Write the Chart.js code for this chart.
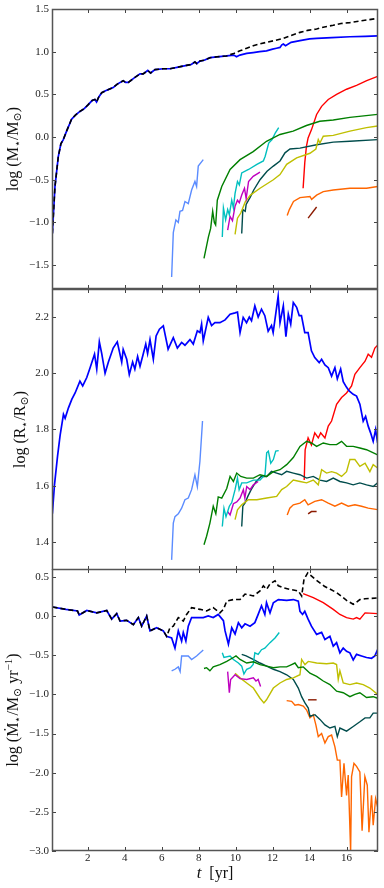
<!DOCTYPE html>
<html>
<head>
<meta charset="utf-8">
<script src="https://cdn.jsdelivr.net/npm/chart.js@4.4.0/dist/chart.umd.min.js"></script>
<style>
  body { margin: 0; background: #fff; }
  #wrap { position: relative; width: 384px; height: 888px; }
  canvas { position: absolute; left: 0; }
</style>
</head>
<body>
<div id="wrap">
  <canvas id="pMass" width="384" height="290" style="top:0px"></canvas>
  <canvas id="pRad" width="384" height="281" style="top:289px"></canvas>
  <canvas id="pRate" width="384" height="319" style="top:569px"></canvas>
</div>
<script>
// shared axis
const timeTicks = [2, 4, 6, 8, 10, 12, 14, 16];
const massTicks = [-1.5, -1.0, -0.5, 0.0, 0.5, 1.0, 1.5];
const radTicks = [1.4, 1.6, 1.8, 2.0, 2.2];
const rateTicks = [-3.0, -2.5, -2.0, -1.5, -1.0, -0.5, 0.0, 0.5];

// ---- log M* ----
const massBlue = [[0.09,-1.13],[0.23,-0.58],[0.41,-0.23],[0.55,-0.08],[0.68,-0.03],[0.86,0.07],[1.13,0.21],[1.35,0.26],[1.58,0.30],[1.8,0.33],[2.03,0.38],[2.25,0.43],[2.39,0.44],[2.48,0.41],[2.6,0.47],[2.76,0.52],[3.05,0.55],[3.38,0.58],[3.6,0.62],[3.92,0.66],[4.05,0.64],[4.2,0.64],[4.5,0.69],[4.83,0.74],[5.0,0.74],[5.25,0.78],[5.4,0.75],[5.64,0.79],[6.09,0.80],[6.45,0.80],[6.9,0.82],[7.35,0.84],[7.6,0.85],[7.8,0.88],[7.9,0.86],[8.07,0.89],[8.3,0.90],[8.62,0.93],[9.0,0.94],[9.51,0.95],[9.9,0.96],[10.05,0.94],[10.23,0.96],[10.6,0.98],[10.95,0.99],[11.3,1.0],[11.67,1.01],[12.0,1.03],[12.21,1.04],[12.4,1.05],[12.5,1.08],[12.58,1.09],[12.7,1.07],[13.0,1.11],[13.48,1.13],[14.0,1.15],[14.38,1.155],[15.2,1.165],[16.18,1.175],[17.0,1.18],[17.68,1.186]];
const massTotalLate = [[9.9,0.98],[10.23,1.01],[10.6,1.04],[10.95,1.07],[11.3,1.09],[11.67,1.11],[12.1,1.13],[12.58,1.155],[13.0,1.19],[13.48,1.226],[13.9,1.25],[14.38,1.265],[14.8,1.29],[15.28,1.31],[15.7,1.33],[16.18,1.34],[16.9,1.365],[17.68,1.39]];
const massLight = [[6.54,-1.64],[6.63,-1.12],[6.77,-0.97],[6.9,-1.0],[6.99,-0.87],[7.13,-0.86],[7.26,-0.755],[7.44,-0.78],[7.62,-0.62],[7.8,-0.52],[7.89,-0.58],[7.98,-0.34],[8.25,-0.265]];
const massGreen = [[8.29,-1.42],[8.53,-1.17],[8.65,-1.07],[8.76,-0.87],[8.85,-1.0],[8.92,-1.03],[9.01,-0.74],[9.25,-0.58],[9.7,-0.38],[10.24,-0.265],[10.95,-0.17],[11.67,-0.05],[12.4,0.03],[13.11,0.07],[13.83,0.135],[14.55,0.185],[15.28,0.20],[16.18,0.23],[17.68,0.265]];
const massCyan = [[9.28,-1.17],[9.34,-0.83],[9.46,-0.97],[9.57,-0.85],[9.66,-0.91],[9.79,-0.74],[9.88,-0.83],[9.97,-0.66],[10.1,-0.52],[10.2,-0.56],[10.33,-0.42],[10.7,-0.38],[11.15,-0.32],[11.5,-0.28],[11.6,-0.225],[11.79,-0.07],[11.97,-0.03],[12.15,0.05],[12.33,0.11]];
const massMagenta = [[9.57,-1.09],[9.7,-0.93],[9.83,-0.98],[9.97,-0.81],[10.1,-0.74],[10.2,-0.77],[10.33,-0.68],[10.48,-0.6],[10.57,-0.72],[10.7,-0.52],[10.95,-0.46],[11.32,-0.41]];
const massYellow = [[9.97,-1.14],[10.1,-0.95],[10.28,-0.89],[10.52,-0.76],[10.8,-0.68],[11.32,-0.6],[12.04,-0.5],[12.4,-0.44],[12.76,-0.32],[13.3,-0.245],[14.02,-0.19],[14.34,-0.14],[14.47,-0.03],[14.56,-0.07],[14.74,0.01],[15.28,0.02],[16.18,0.07],[17.08,0.11],[17.68,0.13]];
const massTeal = [[10.33,-1.13],[10.39,-0.85],[10.52,-0.87],[10.57,-0.79],[10.8,-0.70],[10.98,-0.62],[11.32,-0.5],[11.7,-0.40],[12.04,-0.34],[12.4,-0.28],[12.67,-0.185],[12.94,-0.14],[13.48,-0.13],[14.38,-0.09],[15.28,-0.06],[16.18,-0.05],[17.68,-0.03]];
const massRed = [[13.65,-0.6],[13.74,-0.30],[13.83,-0.11],[13.92,-0.01],[14.11,0.09],[14.38,0.265],[14.65,0.36],[15.01,0.44],[15.46,0.5],[16.0,0.56],[16.54,0.606],[17.09,0.66],[17.68,0.71]];
const massOrange = [[12.79,-0.92],[12.9,-0.853],[13.13,-0.755],[13.48,-0.71],[14.02,-0.696],[14.11,-0.73],[14.38,-0.68],[14.74,-0.64],[15.28,-0.62],[16.18,-0.6],[17.08,-0.6],[17.68,-0.58]];
const massBrown = [[13.92,-0.95],[14.38,-0.82]];

// ---- log R* ----
const radBlue = [[0.09,1.50],[0.2,1.60],[0.37,1.705],[0.51,1.78],[0.69,1.854],[0.78,1.84],[0.96,1.877],[1.14,1.907],[1.32,1.93],[1.58,1.972],[1.73,1.955],[1.95,1.985],[2.13,2.02],[2.37,2.068],[2.49,2.015],[2.63,2.112],[2.76,2.07],[2.94,2.0],[3.12,2.04],[3.38,2.09],[3.6,2.112],[3.84,2.04],[3.92,2.085],[4.11,2.05],[4.25,1.996],[4.43,2.04],[4.55,2.015],[4.7,2.06],[4.83,2.025],[5.0,2.068],[5.14,2.104],[5.24,2.07],[5.37,2.12],[5.55,2.05],[5.7,2.133],[5.88,2.157],[6.09,2.169],[6.35,2.086],[6.63,2.127],[6.85,2.09],[7.08,2.11],[7.26,2.1],[7.53,2.12],[7.71,2.104],[7.93,2.151],[8.07,2.145],[8.16,2.175],[8.25,2.115],[8.52,2.199],[8.7,2.17],[8.88,2.18],[9.15,2.18],[9.43,2.19],[9.7,2.21],[9.97,2.215],[10.1,2.218],[10.24,2.145],[10.41,2.199],[10.59,2.18],[10.74,2.2],[10.86,2.187],[11.04,2.24],[11.22,2.2],[11.4,2.228],[11.58,2.205],[11.76,2.15],[11.94,2.17],[12.03,2.145],[12.3,2.274],[12.4,2.18],[12.58,2.24],[12.72,2.13],[12.85,2.21],[12.98,2.175],[13.12,2.252],[13.3,2.235],[13.44,2.205],[13.56,2.205],[13.74,2.145],[13.92,2.145],[14.1,2.08],[14.28,2.056],[14.52,2.038],[14.65,2.05],[14.83,2.03],[15.01,2.02],[15.19,1.99],[15.37,2.02],[15.5,1.98],[15.68,2.015],[15.82,1.97],[16.0,1.95],[16.14,1.937],[16.36,1.925],[16.54,1.919],[16.72,1.89],[16.9,1.83],[17.03,1.847],[17.17,1.812],[17.3,1.788],[17.44,1.758],[17.57,1.8],[17.68,1.752]];
const radLight = [[6.54,1.336],[6.63,1.467],[6.72,1.49],[6.9,1.50],[7.08,1.52],[7.26,1.55],[7.44,1.556],[7.62,1.586],[7.8,1.639],[7.93,1.597],[8.07,1.687],[8.21,1.83]];
const radGreen = [[8.29,1.39],[8.43,1.42],[8.61,1.467],[8.79,1.527],[8.93,1.5],[9.06,1.56],[9.25,1.556],[9.52,1.59],[9.7,1.633],[9.88,1.615],[10.06,1.645],[10.28,1.633],[10.6,1.627],[10.96,1.627],[11.32,1.639],[11.68,1.633],[12.04,1.65],[12.4,1.657],[12.76,1.675],[13.12,1.7],[13.48,1.74],[13.84,1.758],[14.1,1.752],[14.38,1.74],[14.74,1.752],[15.1,1.746],[15.46,1.746],[15.73,1.758],[16.0,1.74],[16.36,1.74],[16.72,1.734],[17.08,1.728],[17.68,1.71]];
const radCyan = [[9.28,1.455],[9.37,1.52],[9.48,1.49],[9.66,1.527],[9.79,1.54],[9.97,1.586],[10.1,1.627],[10.19,1.586],[10.33,1.61],[10.6,1.61],[10.96,1.62],[11.32,1.62],[11.59,1.639],[11.68,1.717],[11.77,1.723],[11.9,1.68],[12.04,1.693],[12.17,1.723],[12.33,1.725]];
const radMagenta = [[9.57,1.508],[9.7,1.496],[9.88,1.536],[10.06,1.542],[10.24,1.556],[10.42,1.586],[10.5,1.556],[10.6,1.597],[10.78,1.586],[10.96,1.603],[11.22,1.615]];
const radYellow = [[9.97,1.479],[10.1,1.514],[10.33,1.532],[10.69,1.55],[11.15,1.55],[11.68,1.556],[12.22,1.562],[12.49,1.586],[12.76,1.597],[13.12,1.62],[13.48,1.615],[13.84,1.61],[14.2,1.62],[14.47,1.603],[14.65,1.657],[14.92,1.645],[15.19,1.65],[15.46,1.645],[15.73,1.633],[16.0,1.65],[16.18,1.693],[16.45,1.693],[16.72,1.669],[17.0,1.68],[17.26,1.65],[17.44,1.675],[17.68,1.663]];
const radTeal = [[10.33,1.455],[10.39,1.527],[10.52,1.54],[10.66,1.562],[10.84,1.586],[11.11,1.615],[11.38,1.633],[11.68,1.633],[11.94,1.651],[12.22,1.645],[12.49,1.639],[12.76,1.651],[13.12,1.645],[13.48,1.639],[13.84,1.627],[14.2,1.633],[14.56,1.62],[14.92,1.615],[15.28,1.627],[15.64,1.615],[16.0,1.61],[16.36,1.603],[16.72,1.61],[17.08,1.603],[17.44,1.597],[17.68,1.61]];
const radRed = [[13.71,1.62],[13.76,1.728],[13.92,1.77],[14.1,1.745],[14.28,1.788],[14.47,1.77],[14.6,1.788],[14.83,1.77],[15.01,1.812],[15.19,1.83],[15.46,1.89],[15.73,1.914],[16.0,1.93],[16.27,1.955],[16.45,1.996],[16.72,2.02],[17.0,2.043],[17.17,2.068],[17.35,2.057],[17.53,2.09],[17.68,2.10]];
const radOrange = [[12.79,1.496],[12.93,1.52],[13.12,1.532],[13.48,1.538],[13.74,1.55],[13.92,1.532],[14.28,1.544],[14.65,1.55],[15.01,1.538],[15.37,1.527],[15.73,1.538],[16.09,1.527],[16.45,1.532],[16.81,1.527],[17.17,1.52],[17.68,1.515]];
const radBrown = [[13.92,1.5],[14.1,1.508],[14.38,1.508]];

// ---- log Mdot ----
const rateBlue = [[0.1,0.115],[0.82,0.085],[1.45,0.064],[1.54,0.013],[1.95,0.07],[2.49,0.04],[3.03,0.07],[3.3,-0.04],[3.57,0.03],[3.75,-0.064],[4.11,-0.055],[4.47,-0.11],[4.74,-0.02],[4.92,-0.13],[5.19,0.0],[5.37,-0.19],[5.73,-0.15],[6.09,-0.19],[6.27,-0.26],[6.54,-0.28],[6.72,-0.41],[6.9,-0.19],[7.08,-0.32],[7.17,-0.21],[7.31,-0.32],[7.44,-0.13],[7.62,-0.02],[7.89,-0.02],[8.25,-0.02],[8.52,0.0],[8.79,-0.02],[9.06,0.02],[9.34,-0.06],[9.43,-0.19],[9.61,-0.36],[9.79,-0.15],[9.97,-0.23],[10.15,-0.085],[10.33,-0.15],[10.51,-0.1],[10.78,-0.13],[11.04,-0.085],[11.22,0.02],[11.4,0.13],[11.58,0.02],[11.67,0.17],[11.86,0.04],[12.04,0.17],[12.31,0.21],[12.76,0.2],[13.12,0.21],[13.39,0.19],[13.48,0.06],[13.62,0.02],[13.74,0.06],[13.92,-0.04],[14.1,-0.13],[14.38,-0.235],[14.65,-0.21],[14.83,-0.3],[15.1,-0.26],[15.28,-0.385],[15.46,-0.34],[15.64,-0.47],[15.82,-0.41],[16.0,-0.45],[16.18,-0.47],[16.36,-0.56],[16.54,-0.49],[16.81,-0.51],[17.08,-0.53],[17.35,-0.54],[17.53,-0.51],[17.68,-0.43]];
const rateTotalLate = [[6.45,-0.15],[6.63,-0.13],[6.9,-0.02],[7.17,-0.064],[7.35,0.02],[7.62,0.107],[8.07,0.085],[8.43,0.064],[8.79,0.107],[9.15,0.04],[9.34,0.085],[9.52,0.19],[9.88,0.21],[10.24,0.21],[10.51,0.28],[10.96,0.256],[11.32,0.32],[11.5,0.385],[11.68,0.34],[11.86,0.41],[12.13,0.45],[12.31,0.385],[12.58,0.36],[12.94,0.34],[13.39,0.32],[13.57,0.256],[13.7,0.47],[13.9,0.55],[14.3,0.47],[14.8,0.38],[15.46,0.3],[16.0,0.2],[16.36,0.15],[16.5,0.17],[16.72,0.21],[17.0,0.22],[17.68,0.23]];
const rateLight = [[6.54,-0.70],[6.72,-0.68],[6.9,-0.65],[7.0,-0.71],[7.08,-0.51],[7.3,-0.51],[7.44,-0.51],[7.62,-0.555],[7.89,-0.51],[8.25,-0.435]];
const rateGreen = [[8.29,-0.67],[8.43,-0.66],[8.61,-0.70],[8.79,-0.65],[9.15,-0.62],[9.52,-0.58],[9.88,-0.53],[10.02,-0.51],[10.24,-0.555],[10.6,-0.6],[10.96,-0.585],[11.32,-0.62],[11.68,-0.64],[12.04,-0.66],[12.4,-0.65],[12.76,-0.65],[13.03,-0.62],[13.21,-0.6],[13.39,-0.66],[13.66,-0.65],[14.02,-0.73],[14.38,-0.77],[14.74,-0.83],[15.1,-0.876],[15.46,-0.96],[15.82,-0.98],[16.18,-1.03],[16.45,-1.0],[16.72,-0.98],[17.08,-1.04],[17.44,-1.03],[17.68,-1.05]];
const rateCyan = [[9.28,-0.47],[9.37,-0.53],[9.7,-0.51],[9.88,-0.555],[10.15,-0.6],[10.33,-0.64],[10.45,-0.74],[10.6,-0.68],[10.8,-0.66],[10.95,-0.62],[11.04,-0.47],[11.22,-0.49],[11.4,-0.43],[11.58,-0.41],[11.86,-0.34],[12.13,-0.28],[12.36,-0.21]];
const rateMagenta = [[9.57,-0.71],[9.66,-0.98],[9.73,-0.81],[9.97,-0.75],[10.24,-0.8],[10.6,-0.81],[10.96,-0.79],[11.1,-0.83],[11.22,-0.81],[11.35,-0.9]];
const rateYellow = [[9.97,-0.73],[10.24,-0.79],[10.6,-0.855],[10.96,-0.92],[11.32,-1.05],[11.53,-1.11],[11.67,-1.07],[12.04,-0.92],[12.4,-0.855],[12.76,-0.81],[13.12,-0.79],[13.48,-0.75],[13.57,-0.555],[13.75,-0.62],[13.93,-0.58],[14.38,-0.6],[14.92,-0.61],[15.28,-0.6],[15.46,-0.62],[15.55,-0.81],[15.64,-0.7],[15.82,-0.855],[16.18,-0.876],[16.54,-0.855],[16.9,-0.876],[17.26,-0.92],[17.68,-1.0]];
const rateTeal = [[10.33,-0.49],[10.57,-0.51],[10.95,-0.555],[11.32,-0.6],[11.68,-0.64],[12.04,-0.68],[12.4,-0.71],[12.76,-0.75],[13.12,-0.81],[13.39,-0.92],[13.57,-1.03],[13.75,-1.11],[13.93,-1.175],[14.02,-1.28],[14.29,-1.26],[14.56,-1.32],[14.83,-1.39],[15.1,-1.43],[15.37,-1.41],[15.5,-1.54],[15.64,-1.43],[16.0,-1.47],[16.36,-1.41],[16.72,-1.35],[17.0,-1.30],[17.26,-1.30],[17.44,-1.24],[17.68,-1.24]];
const rateRed = [[13.65,0.286],[14.2,0.235],[14.74,0.17],[15.28,0.085],[15.64,0.02],[16.0,-0.02],[16.36,-0.04],[16.54,-0.02],[16.72,-0.04],[17.0,0.04],[17.68,0.03]];
const rateOrange = [[12.76,-1.08],[13.03,-1.09],[13.21,-1.14],[13.39,-1.13],[13.66,-1.15],[13.84,-1.2],[14.02,-1.3],[14.2,-1.26],[14.34,-1.39],[14.47,-1.54],[14.65,-1.5],[14.83,-1.62],[15.01,-1.54],[15.19,-1.52],[15.37,-1.67],[15.5,-1.84],[15.64,-1.84],[15.73,-2.31],[15.86,-1.88],[16.0,-2.29],[16.09,-2.03],[16.22,-3.0],[16.27,-2.05],[16.4,-1.88],[16.54,-1.92],[16.72,-1.99],[16.84,-2.74],[16.99,-2.05],[17.12,-2.16],[17.21,-2.76],[17.35,-2.29],[17.44,-2.67],[17.57,-2.33],[17.68,-2.44]];
const rateBrown = [[13.92,-1.07],[14.38,-1.07]];

const colors = {
    total: '#000000', blue: '#0000ff', light: '#5b8cff', green: '#007f00', cyan: '#00bfbf',
    magenta: '#bf00bf', yellow: '#bfbf00', teal: '#004c4c', red: '#ff0000', orange: '#ff6600', brown: '#8b1a00'
};

const serif = '"Liberation Serif", "DejaVu Serif", serif';

function line(points, color, width, order, dash) {
    return {
        data: points.map(p => ({ x: p[0], y: p[1] })),
        borderColor: color,
        borderWidth: width,
        borderDash: dash || [],
        pointRadius: 0,
        fill: false,
        tension: 0,
        order: order
    };
}

function fmt(v) {
    return v.toFixed(1).replace('-', '\u2212');
}

// draws a label made of pieces [text, size, shift, italic]
function drawPieces(ctx, pieces, x, y, rotate) {
    ctx.save();
    ctx.translate(x, y);
    if (rotate) ctx.rotate(-Math.PI / 2);
    let total = 0;
    pieces.forEach(p => {
        ctx.font = (p[3] ? 'italic ' : '') + p[1] + 'px ' + serif;
        total += ctx.measureText(p[0]).width;
    });
    let cx = -total / 2;
    ctx.textBaseline = 'alphabetic';
    ctx.textAlign = 'left';
    ctx.fillStyle = '#111';
    pieces.forEach(p => {
        ctx.font = (p[3] ? 'italic ' : '') + p[1] + 'px ' + serif;
        ctx.fillText(p[0], cx, 5 + p[2]);
        cx += ctx.measureText(p[0]).width;
    });
    ctx.restore();
}

const panelCfg = {
    pMass: {
        yTicks: massTicks, titleX: 13,
        title: [['log', 16, 0], [' (M', 16, 0], ['\u22c6', 11, 3], ['/M', 16, 0], ['\u2299', 11, 3], [')', 16, 0]]
    },
    pRad: {
        yTicks: radTicks, titleX: 20,
        title: [['log', 16, 0], [' (R', 16, 0], ['\u22c6', 11, 3], ['/R', 16, 0], ['\u2299', 11, 3], [')', 16, 0]]
    },
    pRate: {
        yTicks: rateTicks, titleX: 13, xLabels: true,
        title: [['log', 16, 0], [' (\u1e40', 16, 0], ['\u22c6', 11, 3], ['/M', 16, 0], ['\u2299', 11, 3], [' yr', 16, 0], ['\u22121', 11, -6], [')', 16, 0]]
    }
};

const framePlugin = {
    id: 'frame',
    afterDraw(chart) {
        const cfg = panelCfg[chart.canvas.id];
        const ctx = chart.ctx;
        const a = chart.chartArea;
        const xs = chart.scales.x, ys = chart.scales.y;
        ctx.save();
        ctx.strokeStyle = '#444';
        ctx.lineWidth = 1;
        ctx.beginPath();
        timeTicks.forEach(v => {
            const px = Math.round(xs.getPixelForValue(v)) + 0.5;
            ctx.moveTo(px, a.top); ctx.lineTo(px, a.top + 4);
            ctx.moveTo(px, a.bottom); ctx.lineTo(px, a.bottom - 4);
        });
        cfg.yTicks.forEach(v => {
            const py = Math.round(ys.getPixelForValue(v)) + 0.5;
            ctx.moveTo(a.left, py); ctx.lineTo(a.left + 4, py);
            ctx.moveTo(a.right, py); ctx.lineTo(a.right - 4, py);
        });
        ctx.stroke();
        ctx.strokeStyle = '#555';
        ctx.lineWidth = 1.5;
        ctx.strokeRect(a.left + 0.5, a.top + 0.5, a.right - a.left - 1, a.bottom - a.top - 1);

        ctx.fillStyle = '#222';
        ctx.font = '11px ' + serif;
        ctx.textAlign = 'right';
        ctx.textBaseline = 'middle';
        cfg.yTicks.forEach(v => {
            ctx.fillText(fmt(v), a.left - 3, ys.getPixelForValue(v));
        });
        if (cfg.xLabels) {
            ctx.textAlign = 'center';
            ctx.textBaseline = 'top';
            timeTicks.forEach(v => ctx.fillText(String(v), xs.getPixelForValue(v), a.bottom + 2));
            drawPieces(ctx, [['t', 17, 0, true], ['  [yr]', 16, 0]], (a.left + a.right) / 2, a.bottom + 22, false);
        }
        drawPieces(ctx, cfg.title, cfg.titleX, (a.top + a.bottom) / 2, true);
        ctx.restore();
    }
};

function makePanel(id, datasets, yMin, yMax, padding) {
    new Chart(document.getElementById(id), {
        type: 'line',
        data: { datasets: datasets },
        options: {
            responsive: false,
            devicePixelRatio: 1,
            animation: false,
            layout: { padding: padding },
            plugins: { legend: { display: false }, tooltip: { enabled: false } },
            scales: {
                x: { type: 'linear', min: 0.07, max: 17.7, display: false },
                y: { type: 'linear', min: yMin, max: yMax, display: false }
            }
        },
        plugins: [framePlugin]
    });
}

const massTotal = massBlue.filter(p => p[0] < 9.6).concat(massTotalLate);
const rateTotal = rateBlue.filter(p => p[0] < 6.4).concat(rateTotalLate);

makePanel('pMass', [
    line(massTotal, colors.total, 1.6, 1, [5, 3]),
    line(massBlue, colors.blue, 1.7, 2),
    line(massLight, colors.light, 1.4, 3),
    line(massGreen, colors.green, 1.4, 3),
    line(massCyan, colors.cyan, 1.4, 3),
    line(massMagenta, colors.magenta, 1.4, 3),
    line(massYellow, colors.yellow, 1.4, 3),
    line(massTeal, colors.teal, 1.4, 3),
    line(massRed, colors.red, 1.4, 3),
    line(massOrange, colors.orange, 1.4, 3),
    line(massBrown, colors.brown, 1.4, 3)
], -1.78, 1.5, { left: 52, right: 6, top: 9, bottom: 1 });

makePanel('pRad', [
    line(radBlue, colors.blue, 1.7, 2),
    line(radLight, colors.light, 1.4, 3),
    line(radGreen, colors.green, 1.4, 3),
    line(radCyan, colors.cyan, 1.4, 3),
    line(radMagenta, colors.magenta, 1.4, 3),
    line(radYellow, colors.yellow, 1.4, 3),
    line(radTeal, colors.teal, 1.4, 3),
    line(radRed, colors.red, 1.4, 3),
    line(radOrange, colors.orange, 1.4, 3),
    line(radBrown, colors.brown, 1.4, 3)
], 1.3, 2.3, { left: 52, right: 6, top: 0, bottom: 0 });

makePanel('pRate', [
    line(rateTotal, colors.total, 1.6, 1, [5, 3]),
    line(rateBlue, colors.blue, 1.7, 2),
    line(rateLight, colors.light, 1.4, 3),
    line(rateGreen, colors.green, 1.4, 3),
    line(rateCyan, colors.cyan, 1.4, 3),
    line(rateMagenta, colors.magenta, 1.4, 3),
    line(rateYellow, colors.yellow, 1.4, 3),
    line(rateTeal, colors.teal, 1.4, 3),
    line(rateRed, colors.red, 1.4, 3),
    line(rateOrange, colors.orange, 1.4, 3),
    line(rateBrown, colors.brown, 1.4, 3)
], -3.0, 0.6, { left: 52, right: 6, top: 0, bottom: 37 });
</script>
</body>
</html>
